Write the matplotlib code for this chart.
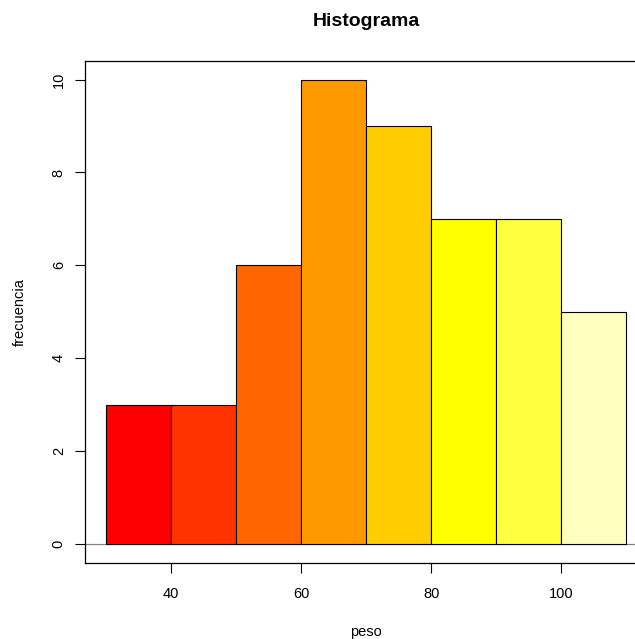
import matplotlib
matplotlib.use("Agg")
import matplotlib.pyplot as plt
import numpy as np

plt.rcParams['font.family'] = ['Liberation Sans', 'DejaVu Sans']

# Data
breaks = [30, 40, 50, 60, 70, 80, 90, 100, 110]
counts = [3, 3, 6, 10, 9, 7, 7, 5]
colors = ["#FF0000", "#FF3300", "#FF6600", "#FF9900",
          "#FFCC00", "#FFFF00", "#FFFF40", "#FFFFBF"]
xticks = [40, 60, 80, 100]
yticks = [0, 2, 4, 6, 8, 10]
title = "Histograma"
xlabel = "peso"
ylabel = "frecuencia"

W, H = 635, 639
fig = plt.figure(figsize=(W / 100, H / 100), dpi=100)
left_px, right_px, top_px, bottom_px = 85.3, 647.0, 61.0, 562.5
ax = fig.add_axes([left_px / W, 1 - bottom_px / H,
                   (right_px - left_px) / W, (bottom_px - top_px) / H])

rng = breaks[-1] - breaks[0]
ax.set_xlim(breaks[0] - 0.04 * rng, breaks[-1] + 0.04 * rng)
ax.set_ylim(-0.04 * max(counts), max(counts) * 1.04)

ax.axhline(0, color="#808080", lw=0.9, zorder=1)
lefts = np.array(breaks[:-1])
widths = np.diff(breaks)
ax.bar(lefts, counts, width=widths, align='edge', color=colors,
       edgecolor='black', linewidth=0.8, zorder=2)

for s in ax.spines.values():
    s.set_linewidth(0.9)
    s.set_color('black')

ax.set_xticks(xticks)
ax.set_yticks(yticks)
ax.tick_params(axis='both', direction='out', length=7, width=0.8,
               labelsize=10.5, color='black')
ax.tick_params(axis='x', pad=10.5)
ax.tick_params(axis='y', pad=7, labelrotation=90)
for lbl in ax.get_yticklabels():
    lbl.set_va('center')

cx = (left_px + right_px) / 2 / W
fig.text(cx, 1 - 22 / H, title, ha='center', va='center',
         fontsize=14, fontweight='bold')
fig.text(cx, 1 - 632 / H, xlabel, ha='center', va='center', fontsize=10.5)
fig.text(20 / W, 1 - 312 / H, ylabel, ha='center', va='center',
         rotation=90, fontsize=10.5)

fig.savefig("out.png", dpi=100)
